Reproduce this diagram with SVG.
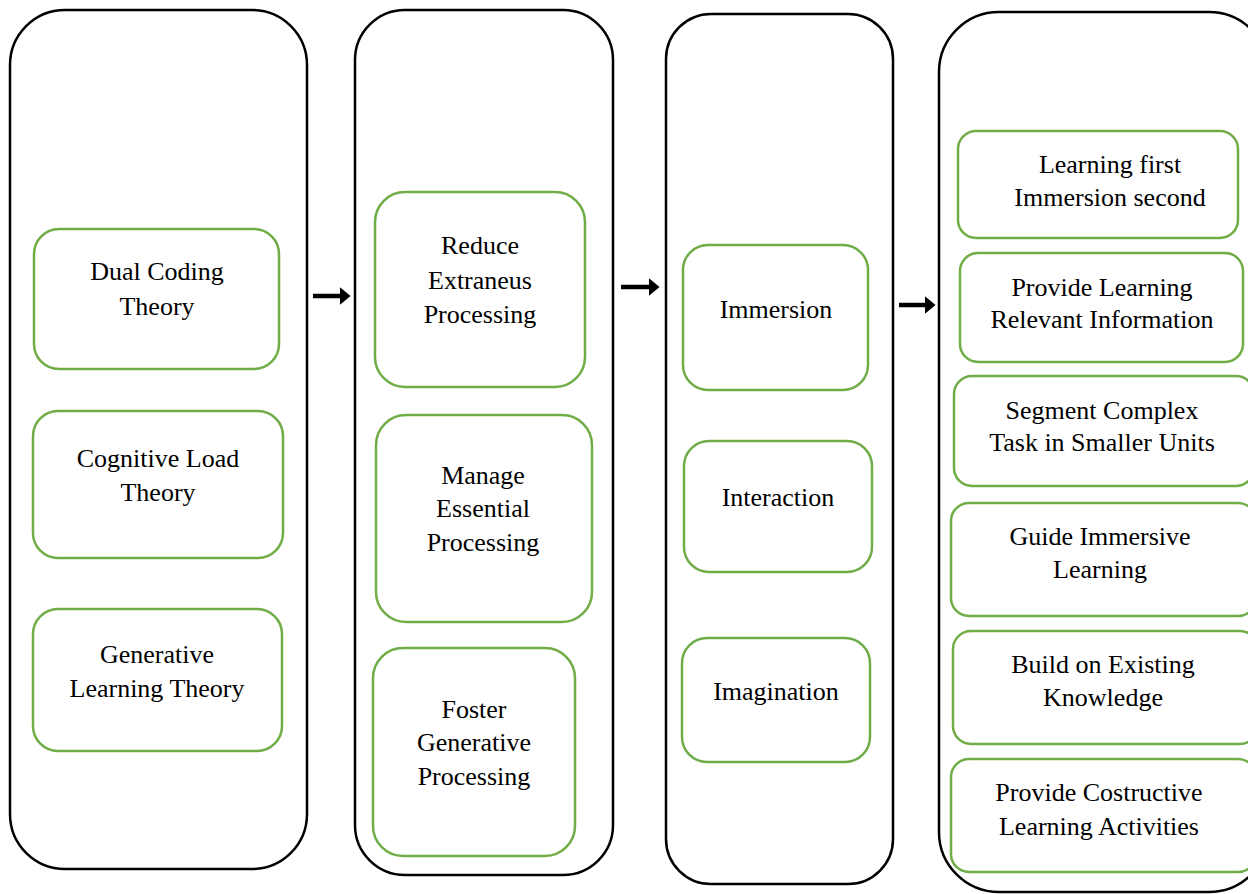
<svg xmlns="http://www.w3.org/2000/svg" width="1248" height="894" viewBox="0 0 1248 894">
<style>
.outer{fill:#fff;stroke:#000;stroke-width:2.5}
.inner{fill:#fff;stroke:#70ad47;stroke-width:2.5}
text{font-family:"Liberation Serif","Times New Roman",serif;font-size:26px;fill:#000;text-anchor:middle}
.arr{stroke:#000;stroke-width:4.5;fill:none}
</style>
<defs>
<marker id="ah" markerWidth="4" markerHeight="4" refX="0.5" refY="2" orient="auto" markerUnits="strokeWidth">
<path d="M0,0 L2.4,2 L0,4 z" fill="#000"/>
</marker>
</defs>
<rect width="1248" height="894" fill="#fff"/>
<g id="col1">
<rect class="outer" x="10" y="10" width="297" height="859" rx="55"/>
</g>
<g id="col2">
<rect class="outer" x="355" y="10" width="258" height="865" rx="50"/>
</g>
<g id="col3">
<rect class="outer" x="666" y="14" width="227" height="870" rx="45"/>
</g>
<g id="col4">
<rect class="outer" x="939" y="12" width="330" height="880" rx="60"/>
</g>
<g id="n-dual"><rect class="inner" x="34" y="229" width="245" height="140" rx="25"/><text x="157" y="280">Dual Coding</text><text x="157" y="315">Theory</text></g>
<g id="n-cog"><rect class="inner" x="33" y="411" width="250" height="147" rx="25"/><text x="158" y="467">Cognitive Load</text><text x="158" y="501">Theory</text></g>
<g id="n-gen"><rect class="inner" x="33" y="609" width="249" height="142" rx="25"/><text x="157" y="663">Generative</text><text x="157" y="697">Learning Theory</text></g>
<g id="n-reduce"><rect class="inner" x="375" y="192" width="210" height="195" rx="30"/><text x="480" y="254">Reduce</text><text x="480" y="289">Extraneus</text><text x="480" y="323">Processing</text></g>
<g id="n-manage"><rect class="inner" x="376" y="415" width="216" height="207" rx="30"/><text x="483" y="484">Manage</text><text x="483" y="517">Essential</text><text x="483" y="551">Processing</text></g>
<g id="n-foster"><rect class="inner" x="373" y="648" width="202" height="208" rx="30"/><text x="474" y="718">Foster</text><text x="474" y="751">Generative</text><text x="474" y="785">Processing</text></g>
<g id="n-immersion"><rect class="inner" x="683" y="245" width="185" height="145" rx="25"/><text x="776" y="318">Immersion</text></g>
<g id="n-interaction"><rect class="inner" x="684" y="441" width="188" height="131" rx="25"/><text x="778" y="506">Interaction</text></g>
<g id="n-imagination"><rect class="inner" x="682" y="638" width="188" height="124" rx="25"/><text x="776" y="700">Imagination</text></g>
<g id="n-lf"><rect class="inner" x="958" y="131" width="280" height="107" rx="18"/><text x="1110" y="173">Learning first</text><text x="1110" y="206">Immersion second</text></g>
<g id="n-plri"><rect class="inner" x="960" y="253" width="283" height="109" rx="18"/><text x="1102" y="296">Provide Learning</text><text x="1102" y="328">Relevant Information</text></g>
<g id="n-seg"><rect class="inner" x="954" y="376" width="300" height="110" rx="18"/><text x="1102" y="419">Segment Complex</text><text x="1102" y="451">Task in Smaller Units</text></g>
<g id="n-guide"><rect class="inner" x="951" y="503" width="305" height="113" rx="18"/><text x="1100" y="545">Guide Immersive</text><text x="1100" y="578">Learning</text></g>
<g id="n-build"><rect class="inner" x="953" y="631" width="305" height="113" rx="18"/><text x="1103" y="673">Build on Existing</text><text x="1103" y="706">Knowledge</text></g>
<g id="n-pcla"><rect class="inner" x="951" y="759" width="305" height="113" rx="18"/><text x="1099" y="801">Provide Costructive</text><text x="1099" y="835">Learning Activities</text></g>
<g id="connectors">
<line class="arr" x1="313" y1="296" x2="342" y2="296" marker-end="url(#ah)"/>
<line class="arr" x1="621" y1="287" x2="651" y2="287" marker-end="url(#ah)"/>
<line class="arr" x1="899" y1="305" x2="927" y2="305" marker-end="url(#ah)"/>
</g>
</svg>
